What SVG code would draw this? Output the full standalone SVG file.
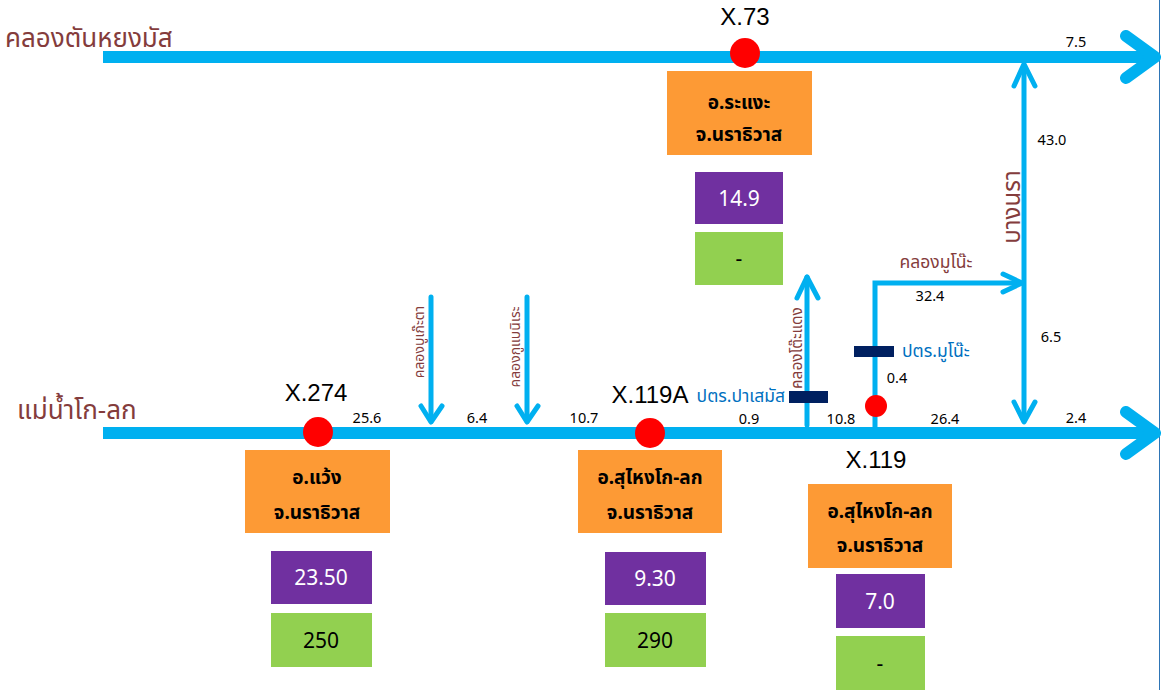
<svg xmlns="http://www.w3.org/2000/svg" width="1161" height="690" viewBox="0 0 1161 690">
<style>
.river{stroke:#00b0f0;stroke-width:12;fill:none}
.head{stroke:#00b0f0;stroke-width:12;fill:none;stroke-linecap:round;stroke-linejoin:round}
.trib{stroke:#00b0f0;stroke-width:5;fill:none;stroke-linecap:round;stroke-linejoin:round}
.th{font-family:"Noto Sans","Noto Sans Thai",Tahoma,sans-serif}
.rname{font-size:26px;fill:#843c3c}
.cname{font-size:14px;fill:#843c3c}
.st{font-family:"Liberation Sans",Arial,sans-serif;font-size:24px;fill:#000;text-anchor:middle}
.num{font-family:"Noto Sans",sans-serif;font-size:14.5px;fill:#000;text-anchor:middle}
.org{fill:#fd9a35}
.pur{fill:#7030a0}
.grn{fill:#92d050}
.otx{font-size:19px;font-weight:bold;fill:#000;text-anchor:middle}
.ptx{font-family:"Noto Sans",sans-serif;font-size:21px;fill:#fff;text-anchor:middle}
.gtx{font-family:"Noto Sans",sans-serif;font-size:21px;fill:#000;text-anchor:middle}
.gate{fill:#002060}
.gtxt{font-size:17.5px;fill:#0070c0}
.pt{fill:#ff0000}
</style>
<rect width="1161" height="690" fill="#ffffff"/>
<line x1="1159.5" y1="0" x2="1159.5" y2="690" stroke="#2e75b6" stroke-width="1"/>
<g id="connectors">
  <line class="river" x1="103" y1="57" x2="1152" y2="57"/>
  <polyline class="head" points="1126,36 1155,57 1126,78"/>
  <line class="river" x1="103" y1="433" x2="1152" y2="433"/>
  <polyline class="head" points="1126,412 1155,433 1126,454"/>
  <line class="trib" x1="431" y1="297" x2="431" y2="421"/>
  <polyline class="trib" points="421,406 431,422 442,406"/>
  <line class="trib" x1="527" y1="297" x2="527" y2="421"/>
  <polyline class="trib" points="517,406 527,422 538,406"/>
  <line class="trib" x1="807" y1="425" x2="807" y2="277"/>
  <polyline class="trib" points="797,298 807,277 818,298"/>
  <polyline class="trib" points="875,430 875,283 1021,283" style="stroke-linecap:butt;stroke-linejoin:miter"/>
  <polyline class="trib" points="1003,274 1022,283 1003,292"/>
  <line class="trib" x1="1024" y1="66" x2="1024" y2="420"/>
  <polyline class="trib" points="1014,86 1024,64 1035,86"/>
  <polyline class="trib" points="1014,402 1024,422 1035,402"/>
</g>
<g id="river-labels" class="th">
  <text class="rname" x="5" y="47">คลองตันหยงมัส</text>
  <text class="rname" x="17" y="419">แม่น้ำโก-ลก</text>
</g>
<g id="canal-labels" class="th">
  <text class="cname" transform="translate(424,342) rotate(-90)" text-anchor="middle">คลองบูเก๊ะตา</text>
  <text class="cname" transform="translate(520,347) rotate(-90)" text-anchor="middle">คลองกูแบนิเระ</text>
  <text class="cname" transform="translate(802,348) rotate(-90)" text-anchor="middle" style="font-size:15.5px">คลองโต๊ะแดง</text>
  <text class="cname" transform="translate(1020,207) rotate(-90)" text-anchor="middle" style="font-size:24px">บางนรา</text>
  <text class="cname" x="936" y="268" text-anchor="middle" style="font-size:17.5px">คลองมูโน๊ะ</text>
</g>
<g id="distances">
  <text class="num" x="1076" y="47">7.5</text>
  <text class="num" x="1052" y="145">43.0</text>
  <text class="num" x="1051" y="342">6.5</text>
  <text class="num" x="930" y="301">32.4</text>
  <text class="num" x="897" y="383">0.4</text>
  <text class="num" x="367" y="423">25.6</text>
  <text class="num" x="477" y="423">6.4</text>
  <text class="num" x="584" y="423">10.7</text>
  <text class="num" x="749" y="424">0.9</text>
  <text class="num" x="841" y="424">10.8</text>
  <text class="num" x="945" y="424">26.4</text>
  <text class="num" x="1076" y="423">2.4</text>
</g>
<g id="gate-pasemas">
  <rect class="gate" x="789" y="391" width="39" height="12"/>
  <text class="th gtxt" x="785" y="402" text-anchor="end">ปตร.ปาเสมัส</text>
</g>
<g id="gate-munoh">
  <rect class="gate" x="854" y="346" width="40" height="11"/>
  <text class="th gtxt" x="902" y="357">ปตร.มูโน๊ะ</text>
</g>
<g id="station-X73">
  <text class="st" x="745" y="25">X.73</text>
  <circle class="pt" cx="745" cy="53" r="15"/>
  <rect class="org" x="667" y="71" width="145" height="84"/>
  <text class="th otx" x="739" y="109">อ.ระแงะ</text>
  <text class="th otx" x="739" y="141">จ.นราธิวาส</text>
  <rect class="pur" x="695" y="172" width="88" height="52"/>
  <text class="ptx" x="739" y="206">14.9</text>
  <rect class="grn" x="695" y="232" width="88" height="53"/>
  <text class="gtx" x="739" y="266">-</text>
</g>
<g id="station-X274">
  <text class="st" x="316" y="401">X.274</text>
  <circle class="pt" cx="318" cy="432" r="15"/>
  <rect class="org" x="245" y="450" width="145" height="83"/>
  <text class="th otx" x="317" y="484">อ.แว้ง</text>
  <text class="th otx" x="317" y="519">จ.นราธิวาส</text>
  <rect class="pur" x="271" y="551" width="101" height="53"/>
  <text class="ptx" x="321" y="585">23.50</text>
  <rect class="grn" x="271" y="613" width="101" height="54"/>
  <text class="gtx" x="321" y="648">250</text>
</g>
<g id="station-X119A">
  <text class="st" x="650" y="403">X.119A</text>
  <circle class="pt" cx="650" cy="433" r="15"/>
  <rect class="org" x="578" y="450" width="144" height="83"/>
  <text class="th otx" x="650" y="484">อ.สุไหงโก-ลก</text>
  <text class="th otx" x="650" y="519">จ.นราธิวาส</text>
  <rect class="pur" x="605" y="552" width="101" height="53"/>
  <text class="ptx" x="655" y="586">9.30</text>
  <rect class="grn" x="605" y="613" width="101" height="54"/>
  <text class="gtx" x="655" y="648">290</text>
</g>
<g id="station-X119">
  <circle class="pt" cx="876" cy="406" r="11"/>
  <text class="st" x="876" y="468">X.119</text>
  <rect class="org" x="808" y="484" width="144" height="84"/>
  <text class="th otx" x="880" y="518">อ.สุไหงโก-ลก</text>
  <text class="th otx" x="880" y="552">จ.นราธิวาส</text>
  <rect class="pur" x="836" y="574" width="89" height="54"/>
  <text class="ptx" x="880" y="609">7.0</text>
  <rect class="grn" x="836" y="636" width="89" height="54"/>
  <text class="gtx" x="880" y="671">-</text>
</g>
</svg>
